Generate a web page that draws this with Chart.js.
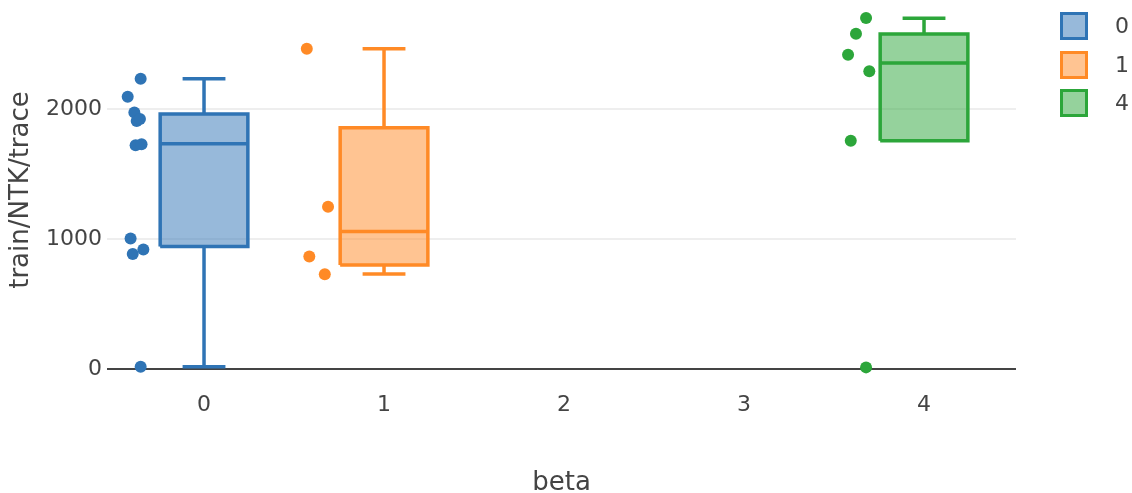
<!DOCTYPE html>
<html>
<head>
<meta charset="utf-8">
<script src="https://cdn.jsdelivr.net/npm/chart.js@4/dist/chart.umd.min.js"></script>
<style>
  html, body { margin: 0; padding: 0; background: #fff; }
  #wrap { position: relative; width: 1132px; height: 493px; }
  #legend { position: absolute; left: 1060px; top: 0; font-family: "DejaVu Sans", Verdana, sans-serif; font-size: 22px; color: #444; }
  .item { position: absolute; left: 0; width: 80px; height: 28px; }
  .sw { position: absolute; left: 0; top: 0; width: 28px; height: 28px; box-sizing: border-box; border: 3px solid; }
  .lbl { position: absolute; left: 55px; top: 0; line-height: 28px; }
</style>
</head>
<body>
<div id="wrap">
  <canvas id="c" width="1132" height="493"></canvas>
  <div id="legend"></div>
</div>
<script>
// ---- data ----
const betaTicks = [0, 1, 2, 3, 4];
const yTicks = [0, 1000, 2000];
const traceNames = ['0', '1', '4'];
const traceBeta = [0, 1, 4];

// raw points (value) and horizontal jitter offsets (in beta units) per trace
const values0 = [2237, 2097, 1977, 1911, 1927, 1724, 1732, 1005, 886, 921, 18];
const jitter0 = [-0.352, -0.424, -0.387, -0.374, -0.356, -0.380, -0.347, -0.408, -0.396, -0.337, -0.352];
const values1 = [2467, 1250, 867, 730];
const jitter1 = [-0.429, -0.311, -0.415, -0.329];
const values4 = [2705, 2583, 2422, 2295, 1759, 13];
const jitter4 = [-0.322, -0.378, -0.422, -0.304, -0.407, -0.322];

// box statistics per trace
const boxLower  = [18, 733, 1759];
const boxQ1     = [944, 801, 1759];
const boxMedian = [1735, 1059, 2357];
const boxQ3     = [1965, 1860, 2582];
const boxUpper  = [2237, 2467, 2702];

// ---- style ----
const lineColors = ['#2f74b5', '#ff8a26', '#2ca63a'];
const fillColors = ['rgba(47,116,181,0.5)', 'rgba(255,138,38,0.5)', 'rgba(44,166,58,0.5)'];
const boxHalf = 0.2436;
const capHalf = 0.119;
const FONT = '"DejaVu Sans", Verdana, sans-serif';

const allValues = [values0, values1, values4];
const allJitter = [jitter0, jitter1, jitter4];

const datasets = [];
traceBeta.forEach((b, i) => {
  datasets.push({
    type: 'bar',
    data: [{ x: b, y: [boxQ1[i], boxQ3[i]] }],
    backgroundColor: fillColors[i],
    borderWidth: 0,
    barThickness: 88,
    grouped: false,
    order: 3
  });
  const gap = { x: b, y: null };
  const pts = [
    { x: b - boxHalf, y: boxQ1[i] }, { x: b + boxHalf, y: boxQ1[i] },
    { x: b + boxHalf, y: boxQ3[i] }, { x: b - boxHalf, y: boxQ3[i] },
    { x: b - boxHalf, y: boxQ1[i] }, gap,
    { x: b - boxHalf, y: boxMedian[i] }, { x: b + boxHalf, y: boxMedian[i] }, gap,
    { x: b, y: boxQ3[i] }, { x: b, y: boxUpper[i] }, gap,
    { x: b - capHalf, y: boxUpper[i] }, { x: b + capHalf, y: boxUpper[i] }, gap,
    { x: b, y: boxQ1[i] }, { x: b, y: boxLower[i] }, gap,
    { x: b - capHalf, y: boxLower[i] }, { x: b + capHalf, y: boxLower[i] }
  ];
  datasets.push({
    type: 'line',
    data: pts,
    borderColor: lineColors[i],
    borderWidth: 3.5,
    pointRadius: 0,
    spanGaps: false,
    fill: false,
    tension: 0,
    borderJoinStyle: 'miter',
    order: 2
  });
  datasets.push({
    type: 'scatter',
    data: allValues[i].map((v, k) => ({ x: b + allJitter[i][k], y: v })),
    backgroundColor: lineColors[i],
    borderWidth: 0,
    pointRadius: 6,
    order: 1
  });
});

new Chart(document.getElementById('c'), {
  type: 'bar',
  data: { datasets },
  options: {
    responsive: false,
    animation: false,
    devicePixelRatio: 1,
    layout: { padding: { left: 0, right: 116, top: 0, bottom: 0 } },
    plugins: { legend: { display: false }, tooltip: { enabled: false } },
    scales: {
      x: {
        type: 'linear',
        min: -0.539,
        max: 4.511,
        offset: false,
        afterFit: s => { s.height = 119; s.paddingLeft = 0; s.paddingRight = 0; },
        afterBuildTicks: s => { s.ticks = betaTicks.map(v => ({ value: v })); },
        grid: { display: false, drawTicks: false },
        border: { display: false },
        ticks: { padding: 18, color: '#444', font: { family: FONT, size: 22 }, maxRotation: 0, callback: v => String(v) },
        title: { display: true, text: 'beta', color: '#444', font: { family: FONT, size: 26, lineHeight: 0.77 }, padding: 0 }
      },
      y: {
        type: 'linear',
        min: -38,
        max: 2797,
        afterFit: s => { s.width = 107; s.paddingTop = 0; s.paddingBottom = 0; },
        afterBuildTicks: s => { s.ticks = yTicks.map(v => ({ value: v })); },
        grid: {
          drawTicks: false,
          color: c => (c.tick && c.tick.value === 0 ? '#444' : '#eeeeee'),
          lineWidth: 2
        },
        border: { display: false },
        ticks: { padding: 5, color: '#444', font: { family: FONT, size: 22 }, callback: v => String(v) },
        title: { display: true, text: 'train/NTK/trace', color: '#444', font: { family: FONT, size: 26 }, padding: { top: 6, bottom: 0 } }
      }
    }
  }
});

const legend = document.getElementById('legend');
const legendTops = [12, 51, 89];
traceNames.forEach((name, i) => {
  const it = document.createElement('div');
  it.className = 'item';
  it.style.top = legendTops[i] + 'px';
  const sw = document.createElement('div');
  sw.className = 'sw';
  sw.style.borderColor = lineColors[i];
  sw.style.background = fillColors[i];
  const lb = document.createElement('div');
  lb.className = 'lbl';
  lb.textContent = name;
  it.appendChild(sw); it.appendChild(lb);
  legend.appendChild(it);
});
</script>
</body>
</html>
